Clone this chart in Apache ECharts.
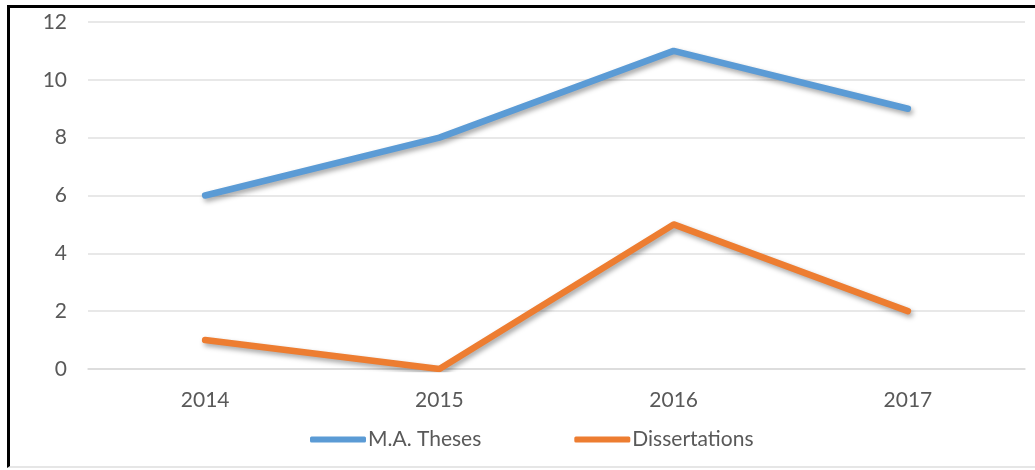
<!DOCTYPE html>
<html>
<head>
<meta charset="utf-8">
<script src="https://cdn.jsdelivr.net/npm/echarts@6/dist/echarts.min.js"></script>
<style>
html, body { margin: 0; padding: 0; background: #fff; }
#frame {
    position: absolute; left: 7px; top: 5px; width: 1028px; height: 463px;
    border-top: 3px solid #000; border-left: 3px solid #000;
    border-bottom: 2px solid #e6e6e6; box-sizing: border-box;
}
#chart { position: absolute; left: 0; top: 0; width: 1035px; height: 470px; }
</style>
</head>
<body>
<div id="frame"></div>
<div id="chart"></div>
<script>
const years = ['2014', '2015', '2016', '2017'];
const maTheses = [6, 8, 11, 9];
const dissertations = [1, 0, 5, 2];
const yTicks = { min: 0, max: 12, step: 2 };

const myChart = echarts.init(document.getElementById('chart'));
const textFont = 'Lato';

// Excel-like soft shadow under the lines
const lineShadow = {
    shadowColor: 'rgba(0,0,0,0.35)',
    shadowBlur: 5,
    shadowOffsetX: 2,
    shadowOffsetY: 3
};

const option = {
    animation: false,
    color: ['#5B9BD5', '#ED7D31'],
    grid: { left: 88, right: 10, top: 22, bottom: 101 },
    legend: {
        top: 424,
        left: 305,
        itemWidth: 56,
        itemHeight: 6,
        itemGap: 93,
        icon: 'roundRect',
        textStyle: { color: '#595959', fontSize: 21, fontFamily: textFont, padding: [0, 0, 0, -3] },
        data: ['M.A. Theses', 'Dissertations']
    },
    xAxis: {
        type: 'category',
        data: years,
        boundaryGap: true,
        axisTick: { show: false },
        axisLine: { lineStyle: { color: '#d9d9d9', width: 1.5 } },
        axisLabel: { color: '#595959', fontSize: 21, fontFamily: textFont, margin: 21 }
    },
    yAxis: {
        type: 'value',
        min: yTicks.min,
        max: yTicks.max,
        interval: yTicks.step,
        axisLine: { show: false },
        axisTick: { show: false },
        splitLine: { lineStyle: { color: '#e0e0e0', width: 1.5 } },
        axisLabel: { color: '#595959', fontSize: 21, fontFamily: textFont, margin: 21 }
    },
    series: [
        {
            name: 'M.A. Theses',
            type: 'line',
            data: maTheses,
            symbol: 'none',
            lineStyle: Object.assign({ width: 6.5, cap: 'round', join: 'round' }, lineShadow)
        },
        {
            name: 'Dissertations',
            type: 'line',
            data: dissertations,
            symbol: 'none',
            lineStyle: Object.assign({ width: 6.5, cap: 'round', join: 'round' }, lineShadow)
        }
    ]
};
myChart.setOption(option);
</script>
</body>
</html>
